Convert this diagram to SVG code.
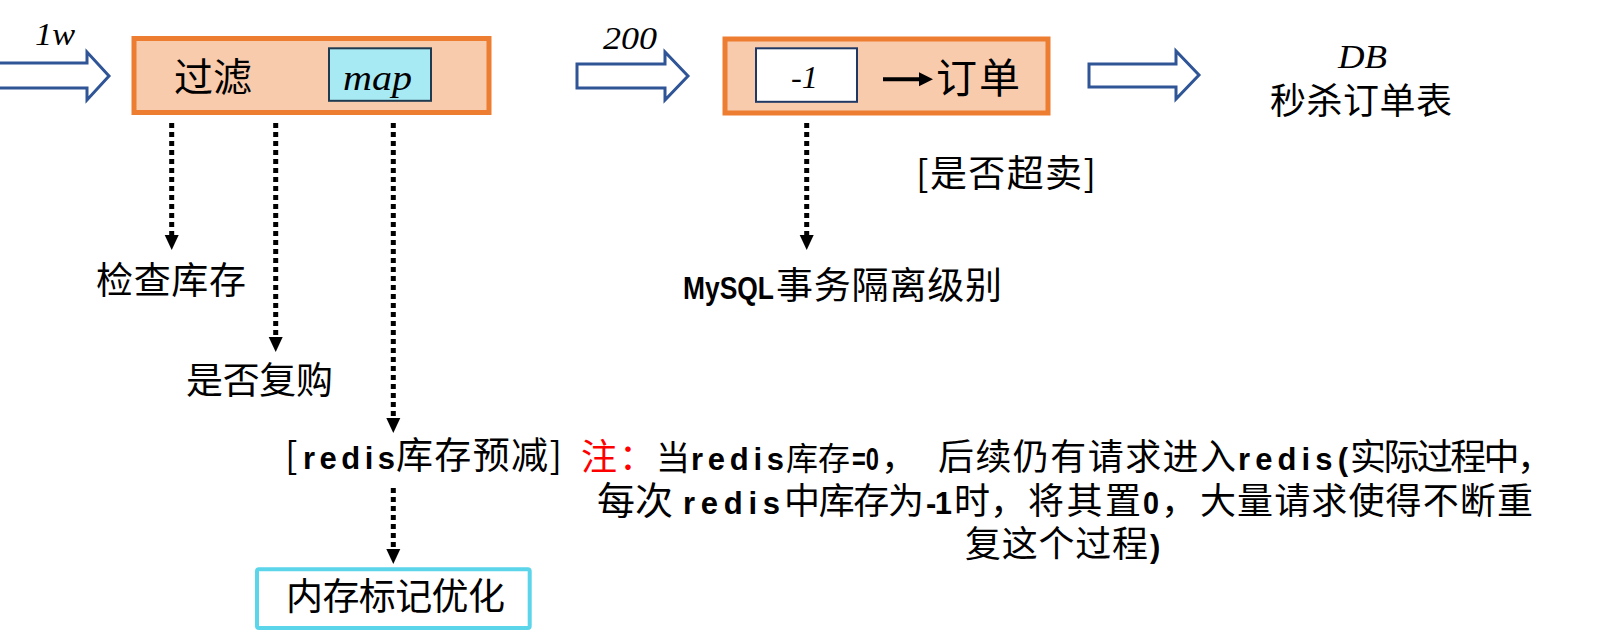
<svg xmlns="http://www.w3.org/2000/svg" width="1603" height="644" viewBox="0 0 1603 644">
<style>
.cjk{font-family:"Noto Sans CJK SC","Noto Sans",sans-serif;fill:#000}
.lat{font-family:"Liberation Sans","DejaVu Sans",sans-serif;font-weight:bold;fill:#000}
.it{font-family:"Liberation Serif",serif;font-style:italic;fill:#000}
.hollow{fill:#fff;stroke:#2F5597;stroke-width:3;stroke-linejoin:miter}
.obox{fill:#F8CBAD;stroke:#ED7D31;stroke-width:5}
.dot{stroke:#000;stroke-width:5;stroke-dasharray:5 4;fill:none}
.head{fill:#000}
</style>
<rect width="1603" height="644" fill="#fff"/>
<g id="connectors">
<polygon class="hollow" points="-5,63 87,63 87,52 109,76 87,100 87,88 -5,88"/>
<polygon class="hollow" points="577,64 665,64 665,52 688,76 665,100 665,88 577,88"/>
<polygon class="hollow" points="1089,64 1176,64 1176,51 1199,75 1176,99 1176,87 1089,87"/>
<line class="dot" x1="171.7" y1="123" x2="171.7" y2="236"/>
<polygon class="head" points="164.7,235 178.7,235 171.7,250"/>
<line class="dot" x1="275.7" y1="123" x2="275.7" y2="338"/>
<polygon class="head" points="268.7,337 282.7,337 275.7,352"/>
<line class="dot" x1="393.3" y1="123" x2="393.3" y2="419"/>
<polygon class="head" points="386.3,418 400.3,418 393.3,433"/>
<line class="dot" x1="393.3" y1="488" x2="393.3" y2="550"/>
<polygon class="head" points="386.3,549 400.3,549 393.3,564"/>
<line class="dot" x1="806.7" y1="123" x2="806.7" y2="236"/>
<polygon class="head" points="799.7,235 813.7,235 806.7,250"/>
</g>
<g id="label-1w"><text class="it" x="35" y="45" font-size="32" textLength="40" lengthAdjust="spacingAndGlyphs">1w</text></g>
<g id="label-200"><text class="it" x="603" y="49" font-size="31" textLength="54" lengthAdjust="spacingAndGlyphs">200</text></g>
<g id="filter">
<rect class="obox" x="134" y="38.5" width="355" height="74"/>
<text class="cjk" x="174" y="91" font-size="39" textLength="78">过滤</text>
<rect x="329" y="48.3" width="102" height="52.5" fill="#A8EAF4" stroke="#1F3A4F" stroke-width="2"/>
<text class="it" x="343" y="90" font-size="36" textLength="69" lengthAdjust="spacingAndGlyphs">map</text>
</g>
<g id="order">
<rect class="obox" x="725" y="39" width="323" height="74"/>
<rect x="756" y="48.3" width="101" height="53.5" fill="#fff" stroke="#1F3864" stroke-width="2"/>
<text class="it" x="791" y="88" font-size="32" textLength="27" lengthAdjust="spacingAndGlyphs">-1</text>
<line x1="883" y1="79.3" x2="921" y2="79.3" stroke="#000" stroke-width="4"/>
<polygon class="head" points="919,72.3 933,79.3 919,86.3"/>
<text class="cjk" x="936" y="93" font-size="41" textLength="84">订单</text>
</g>
<g id="db">
<text class="it" x="1338" y="68" font-size="34" textLength="49" lengthAdjust="spacingAndGlyphs">DB</text>
<text class="cjk" x="1270" y="114" font-size="36" textLength="182">秒杀订单表</text>
</g>
<g id="check-stock"><text class="cjk" x="96" y="294" font-size="37" textLength="150">检查库存</text></g>
<g id="repurchase"><text class="cjk" x="186" y="394" font-size="37" textLength="147">是否复购</text></g>
<g id="oversell"><text class="cjk" x="916" y="187" font-size="37" textLength="180">[是否超卖]</text></g>
<g id="mysql">
<text class="lat" x="683" y="298.5" font-size="32" textLength="91" lengthAdjust="spacingAndGlyphs">MySQL</text>
<text class="cjk" x="776" y="298.5" font-size="37" textLength="226">事务隔离级别</text>
</g>
<g id="redis">
<text class="cjk" x="285" y="468.5" font-size="37" textLength="16">[</text>
<text class="lat" x="303" y="468.5" font-size="31" textLength="92">redis</text>
<text class="cjk" x="396" y="468.5" font-size="37" textLength="166">库存预减]</text>
</g>
<g id="note">
<text class="cjk" x="581" y="470" font-size="36" textLength="74" style="fill:#FF0000">注：</text>
<text class="cjk" x="656" y="470" font-size="34">当</text>
<text class="lat" x="691" y="470" font-size="31" textLength="93">redis</text>
<text class="cjk" x="786" y="470" font-size="32">库存</text>
<text class="lat" x="852" y="470" font-size="31" textLength="27" lengthAdjust="spacingAndGlyphs">=0</text>
<text class="cjk" x="881" y="470" font-size="36">，</text>
<text class="cjk" x="938" y="470" font-size="36" textLength="298">后续仍有请求进入</text>
<text class="lat" x="1238" y="470" font-size="31" textLength="110">redis(</text>
<text class="cjk" x="1350" y="470" font-size="36" textLength="203">实际过程中，</text>
<text class="cjk" x="597" y="513.5" font-size="38">每次</text>
<text class="lat" x="683" y="513.5" font-size="31" textLength="97">redis</text>
<text class="cjk" x="784" y="513.5" font-size="36" textLength="140">中库存为</text>
<text class="lat" x="926" y="513.5" font-size="31" textLength="26">-1</text>
<text class="cjk" x="954" y="513.5" font-size="36" textLength="72">时，</text>
<text class="cjk" x="1028" y="513.5" font-size="36" textLength="113">将其置</text>
<text class="lat" x="1143" y="513.5" font-size="31" textLength="16" lengthAdjust="spacingAndGlyphs">0</text>
<text class="cjk" x="1161" y="513.5" font-size="36">，</text>
<text class="cjk" x="1200" y="513.5" font-size="36" textLength="333">大量请求使得不断重</text>
<text class="cjk" x="965" y="557" font-size="36" textLength="183">复这个过程</text>
<text class="lat" x="1150" y="557" font-size="31" textLength="10">)</text>
</g>
<g id="memory-mark">
<rect x="257" y="569.3" width="272.7" height="58.7" rx="2" fill="#fff" stroke="#5BD5EA" stroke-width="4"/>
<text class="cjk" x="286" y="610" font-size="37" textLength="219">内存标记优化</text>
</g>
</svg>
